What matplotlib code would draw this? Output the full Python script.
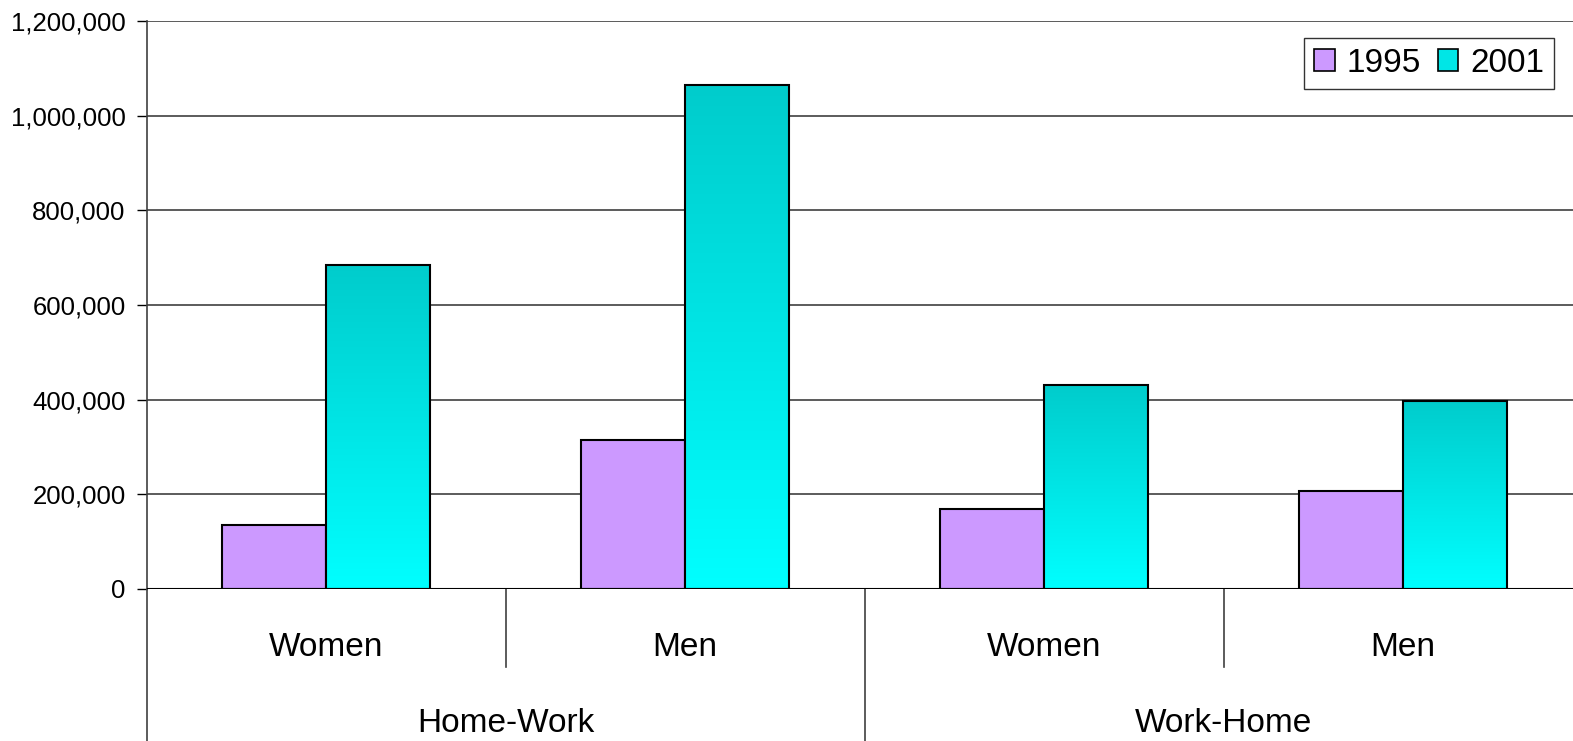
import matplotlib
matplotlib.use("Agg")
import matplotlib.pyplot as plt
import numpy as np
from matplotlib.patches import Patch
from matplotlib.colors import LinearSegmentedColormap
import matplotlib.transforms as mtransforms

plt.rcParams['font.family'] = ['Liberation Sans', 'DejaVu Sans']

categories = ["Women", "Men", "Women", "Men"]
groups = ["Home-Work", "Work-Home"]
series_names = ["1995", "2001"]
values_1995 = [135000, 315000, 170000, 207000]
values_2001 = [685000, 1064000, 430000, 398000]
yticks = [0, 200000, 400000, 600000, 800000, 1000000, 1200000]

W, H = 1573, 741
fig = plt.figure(figsize=(W / 100, H / 100), dpi=100)
ax = fig.add_axes([146.5 / W, (H - 589) / H, 1436 / W, 568 / H])

x = np.arange(len(categories))
bw = 0.29
purple = '#CC99FF'
ax.bar(x - bw / 2, values_1995, width=bw, color=purple, edgecolor='black', linewidth=1.5, zorder=3)

cmap = LinearSegmentedColormap.from_list('cy', ['#00FFFF', '#00CCCC'])
grad = np.linspace(0, 1, 256).reshape(-1, 1)
bars = ax.bar(x + bw / 2, values_2001, width=bw, facecolor='none', edgecolor='black', linewidth=1.5, zorder=4)
for b in bars:
    x0 = b.get_x(); x1 = x0 + b.get_width(); h = b.get_height()
    ax.imshow(grad, extent=[x0, x1, 0, h], origin='lower', cmap=cmap, aspect='auto', zorder=3)

ax.set_xlim(-0.5, len(categories) - 0.5)
ax.set_ylim(0, 1200000)
ax.set_yticks(yticks)
ax.set_yticklabels([f"{v:,}" for v in yticks], fontsize=18.5)
ax.tick_params(axis='y', length=7, width=1, pad=8, colors='black')
ax.set_xticks([])
for yv in yticks[1:]:
    ax.axhline(yv, color='#404040', linewidth=1.2, zorder=1)
ax.axhline(0, color='black', linewidth=1.5, zorder=5)
for s in ['top', 'right', 'bottom']:
    ax.spines[s].set_visible(False)
ax.spines['left'].set_color('#404040')
ax.spines['left'].set_linewidth(1.2)

# multi-level category axis
trans = mtransforms.blended_transform_factory(ax.transData, fig.transFigure)
def fy(py):
    return (H - py) / H
for i, c in enumerate(categories):
    ax.text(i, fy(647), c, transform=trans, ha='center', va='center', fontsize=24)
for g, gname in enumerate(groups):
    ax.text(2 * g + 0.5, fy(723), gname, transform=trans, ha='center', va='center', fontsize=24)
# separators
for xs, bottom in [(-0.5, H), (0.5, 667), (1.5, H), (2.5, 667)]:
    ax.plot([xs, xs], [fy(589), fy(bottom)], transform=trans, color='#404040', linewidth=1.2, clip_on=False)

handles = [Patch(facecolor=purple, edgecolor='black', linewidth=1.2, label=series_names[0]),
           Patch(facecolor='#00E6E6', edgecolor='black', linewidth=1.2, label=series_names[1])]
leg = ax.legend(handles=handles, loc='upper right', bbox_to_anchor=(1554 / W, (H - 38) / H),
                bbox_transform=fig.transFigure, ncol=2, fontsize=24, frameon=True, fancybox=False,
                edgecolor='black', handlelength=0.62, handleheight=0.62, handletextpad=0.35,
                columnspacing=0.5, borderpad=0.3, borderaxespad=0)
leg.get_frame().set_linewidth(1.0)

fig.savefig('out.png', dpi=100)
